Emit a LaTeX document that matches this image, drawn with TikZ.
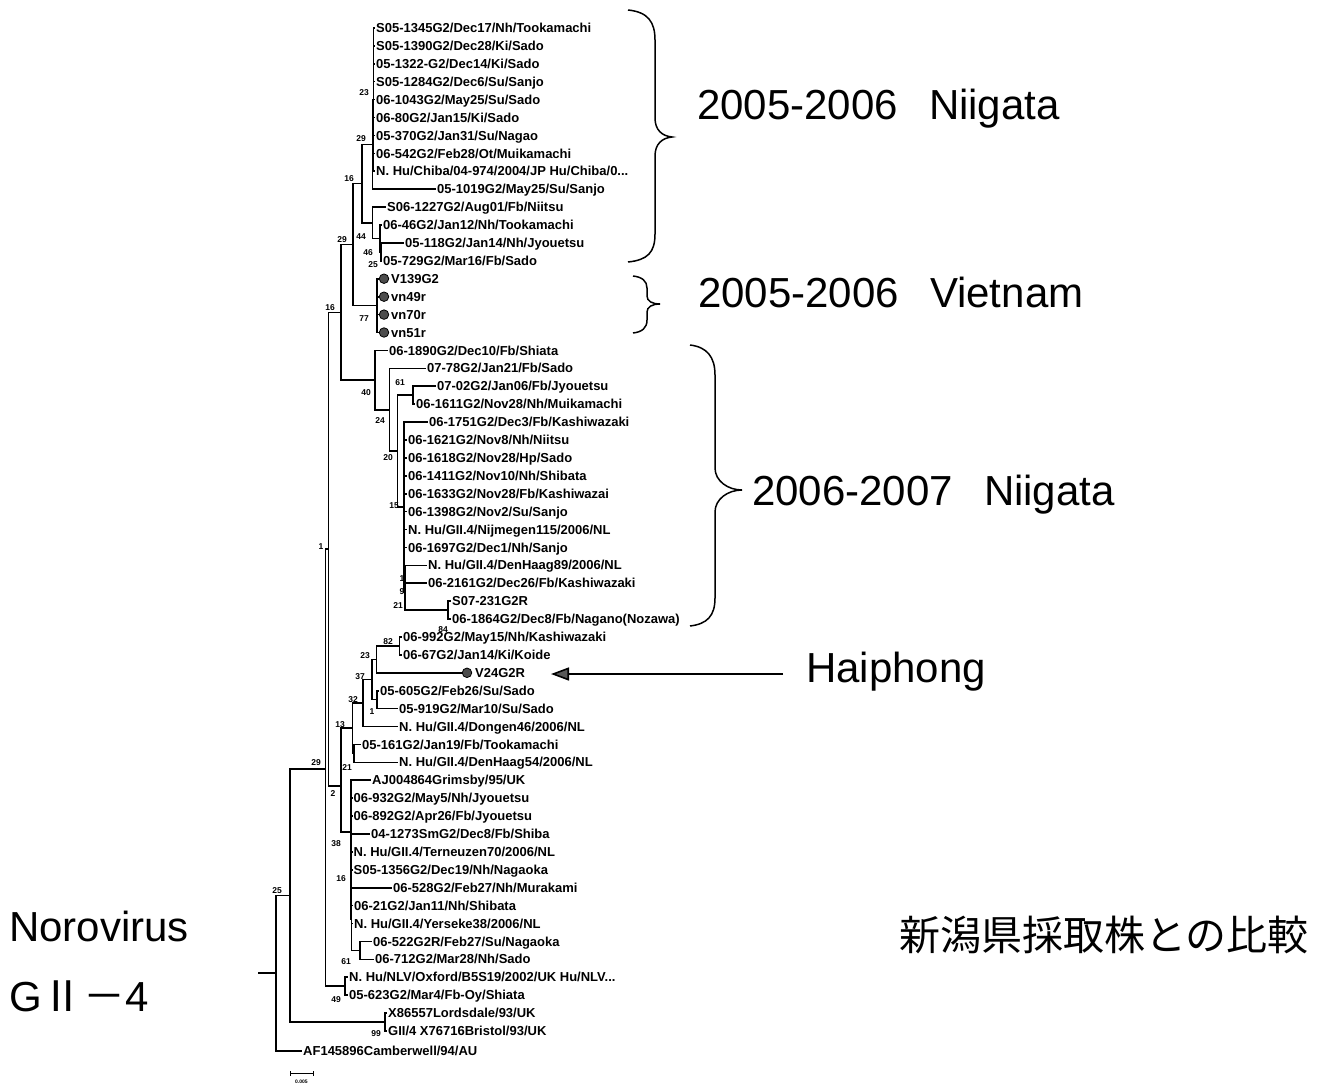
\documentclass[tikz,border=0pt]{standalone}
\usepackage{fontspec}
\setmainfont{Liberation Sans}
\newfontfamily\cjk{Noto Sans CJK JP}
\usetikzlibrary{arrows.meta}
\tikzset{
  br/.style={line width=1.6pt},
  leaf/.style={anchor=west, inner sep=1pt, text height=9.3pt, text depth=0pt, font=\bfseries\fontsize{13}{13}\selectfont},
  bs/.style={inner sep=0pt, text height=6pt, text depth=0pt, font=\bfseries\fontsize{8.5}{8.5}\selectfont},
  big/.style={anchor=west, inner sep=0pt, text height=30pt, text depth=0pt, font=\fontsize{42}{42}\selectfont},
  vdot/.style={circle, fill=black!70, draw=black, line width=0.8pt, minimum size=9.5pt, inner sep=0pt},
  bracepath/.style={line width=1.5pt},
}
\begin{document}
\begin{tikzpicture}[x=1pt,y=-1pt]
\fill[white] (0,0) rectangle (1324,1091);
\useasboundingbox (0,0) rectangle (1324,1091);

% ---------- leaves ----------
\node[leaf] (L1) at (375,28.0) {S05-1345G2/Dec17/Nh/Tookamachi};
\node[leaf] (L2) at (375,45.9) {S05-1390G2/Dec28/Ki/Sado};
\node[leaf] (L3) at (375,63.8) {05-1322-G2/Dec14/Ki/Sado};
\node[leaf] (L4) at (375,81.7) {S05-1284G2/Dec6/Su/Sanjo};
\node[leaf] (L5) at (375,99.6) {06-1043G2/May25/Su/Sado};
\node[leaf] (L6) at (375,117.6) {06-80G2/Jan15/Ki/Sado};
\node[leaf] (L7) at (375,135.5) {05-370G2/Jan31/Su/Nagao};
\node[leaf] (L8) at (375,153.4) {06-542G2/Feb28/Ot/Muikamachi};
\node[leaf] (L9) at (375,171.3) {N. Hu/Chiba/04-974/2004/JP Hu/Chiba/0...};
\node[leaf] (L10) at (436,189.2) {05-1019G2/May25/Su/Sanjo};
\node[leaf] (L11) at (386,207.1) {S06-1227G2/Aug01/Fb/Niitsu};
\node[leaf] (L12) at (382,225.0) {06-46G2/Jan12/Nh/Tookamachi};
\node[leaf] (L13) at (404,242.9) {05-118G2/Jan14/Nh/Jyouetsu};
\node[leaf] (L14) at (382,260.8) {05-729G2/Mar16/Fb/Sado};
\node[vdot] (C15) at (384,278.7) {};
\node[vdot] (C16) at (384,296.7) {};
\node[vdot] (C17) at (384,314.6) {};
\node[vdot] (C18) at (384,332.5) {};
\node[leaf] (T15) at (390,278.7) {V139G2};
\node[leaf] (T16) at (390,296.7) {vn49r};
\node[leaf] (T17) at (390,314.6) {vn70r};
\node[leaf] (T18) at (390,332.5) {vn51r};
\node[leaf] (L19) at (388,350.4) {06-1890G2/Dec10/Fb/Shiata};
\node[leaf] (L20) at (426,368.3) {07-78G2/Jan21/Fb/Sado};
\node[leaf] (L21) at (436,386.2) {07-02G2/Jan06/Fb/Jyouetsu};
\node[leaf] (L22) at (415,404.1) {06-1611G2/Nov28/Nh/Muikamachi};
\node[leaf] (L23) at (428,422.0) {06-1751G2/Dec3/Fb/Kashiwazaki};
\node[leaf] (L24) at (407,439.9) {06-1621G2/Nov8/Nh/Niitsu};
\node[leaf] (L25) at (407,457.8) {06-1618G2/Nov28/Hp/Sado};
\node[leaf] (L26) at (407,475.8) {06-1411G2/Nov10/Nh/Shibata};
\node[leaf] (L27) at (407,493.7) {06-1633G2/Nov28/Fb/Kashiwazai};
\node[leaf] (L28) at (407,511.6) {06-1398G2/Nov2/Su/Sanjo};
\node[leaf] (L29) at (407,529.5) {N. Hu/GII.4/Nijmegen115/2006/NL};
\node[leaf] (L30) at (407,547.4) {06-1697G2/Dec1/Nh/Sanjo};
\node[leaf] (L31) at (427,565.3) {N. Hu/GII.4/DenHaag89/2006/NL};
\node[leaf] (L32) at (427,583.2) {06-2161G2/Dec26/Fb/Kashiwazaki};
\node[leaf] (L33) at (451,601.1) {S07-231G2R};
\node[leaf] (L34) at (451,619.0) {06-1864G2/Dec8/Fb/Nagano(Nozawa)};
\node[leaf] (L35) at (402,636.9) {06-992G2/May15/Nh/Kashiwazaki};
\node[leaf] (L36) at (402,654.8) {06-67G2/Jan14/Ki/Koide};
\node[vdot] (C37) at (467,672.8) {};
\node[leaf] (T37) at (474,672.8) {V24G2R};
\node[leaf] (L38) at (379,690.7) {05-605G2/Feb26/Su/Sado};
\node[leaf] (L39) at (398,708.6) {05-919G2/Mar10/Su/Sado};
\node[leaf] (L40) at (398,726.5) {N. Hu/GII.4/Dongen46/2006/NL};
\node[leaf] (L41) at (361,744.4) {05-161G2/Jan19/Fb/Tookamachi};
\node[leaf] (L42) at (398,762.3) {N. Hu/GII.4/DenHaag54/2006/NL};
\node[leaf] (L43) at (371,780.2) {AJ004864Grimsby/95/UK};
\node[leaf] (L44) at (352.5,798.1) {06-932G2/May5/Nh/Jyouetsu};
\node[leaf] (L45) at (352.5,816.0) {06-892G2/Apr26/Fb/Jyouetsu};
\node[leaf] (L46) at (370,833.9) {04-1273SmG2/Dec8/Fb/Shiba};
\node[leaf] (L47) at (352.5,851.8) {N. Hu/GII.4/Terneuzen70/2006/NL};
\node[leaf] (L48) at (352.5,869.8) {S05-1356G2/Dec19/Nh/Nagaoka};
\node[leaf] (L49) at (392,887.7) {06-528G2/Feb27/Nh/Murakami};
\node[leaf] (L50) at (353,905.6) {06-21G2/Jan11/Nh/Shibata};
\node[leaf] (L51) at (353,923.5) {N. Hu/GII.4/Yerseke38/2006/NL};
\node[leaf] (L52) at (372,941.4) {06-522G2R/Feb27/Su/Nagaoka};
\node[leaf] (L53) at (374,959.3) {06-712G2/Mar28/Nh/Sado};
\node[leaf] (L54) at (348,977.2) {N. Hu/NLV/Oxford/B5S19/2002/UK Hu/NLV...};
\node[leaf] (L55) at (348,995.1) {05-623G2/Mar4/Fb-Oy/Shiata};
\node[leaf] (L56) at (387,1013.0) {X86557Lordsdale/93/UK};
\node[leaf] (L57) at (387,1030.9) {GII/4 X76716Bristol/93/UK};
\node[leaf] (L58) at (302,1051) {AF145896Camberwell/94/AU};

% ---------- internal nodes ----------
\coordinate (R0) at (258,973.2);
\coordinate (R) at (276,973.2);
\coordinate (N25) at (290,895.3);
\coordinate (N99) at (385,1022);
\coordinate (N29) at (325.5,768.7);
\coordinate (N49) at (345,986.2);
\coordinate (N1) at (328.5,549.2);
\coordinate (N16low) at (341,312.3);
\coordinate (N29b) at (353,244.6);
\coordinate (N16up) at (362,183.6);
\coordinate (N29a) at (372.5,144.4);
\coordinate (N23) at (373.5,99.65);
\coordinate (N44) at (372.5,222.75);
\coordinate (N46) at (380,238.4);
\coordinate (N25a) at (381,251.85);
\coordinate (N77) at (377,305.6);
\coordinate (N40) at (375,380.0);
\coordinate (N24) at (389.5,409.7);
\coordinate (N20) at (397.5,451.0);
\coordinate (N61a) at (413,395.15);
\coordinate (N15) at (404,507.1);
\coordinate (N21) at (405,592.15);
\coordinate (N9) at (405.5,574.25);
\coordinate (N84) at (448,610.05);
\coordinate (N2) at (341,786);
\coordinate (N13) at (352.5,728.2);
\coordinate (N32) at (363,703.0);
\coordinate (N37) at (372,679.5);
\coordinate (N23b) at (376.5,659.3);
\coordinate (N82) at (399.5,645.85);
\coordinate (N1c) at (377,699.65);
\coordinate (N21b) at (354,753.35);
\coordinate (N38) at (351,832);
\coordinate (N16c) at (351.5,919);
\coordinate (N61b) at (360,950.35);

% ---------- branches ----------
\draw[br] (R0) -- (R);
\foreach \p/\c in {R/N25, R/L58, N25/N29, N25/N99, N99/L56, N99/L57,
  N29/N1, N29/N49, N49/L54, N49/L55, N1/N16low, N1/N2,
  N16low/N29b, N16low/N40, N29b/N16up, N29b/N77, N16up/N29a, N16up/N44,
  N29a/N23, N29a/L10, N23/L1, N23/L2, N23/L3, N23/L4, N23/L5, N23/L6, N23/L7, N23/L8, N23/L9,
  N44/L11, N44/N46, N46/L12, N46/N25a, N25a/L13, N25a/L14,
  N77/C15, N77/C16, N77/C17, N77/C18,
  N40/L19, N40/N24, N24/L20, N24/N20, N20/N61a, N20/N15, N61a/L21, N61a/L22,
  N15/L23, N15/L24, N15/L25, N15/L26, N15/L27, N15/L28, N15/L29, N15/L30, N15/N21,
  N21/N9, N21/N84, N9/L31, N9/L32, N84/L33, N84/L34,
  N2/N13, N2/N38, N13/N32, N13/N21b, N32/N37, N32/L40, N37/N23b, N37/N1c,
  N23b/N82, N23b/C37, N82/L35, N82/L36, N1c/L38, N1c/L39, N21b/L41, N21b/L42,
  N38/L43, N38/L44, N38/L45, N38/L46, N38/L47, N38/L48, N38/N16c,
  N16c/L49, N16c/L50, N16c/L51, N16c/N61b, N61b/L52, N61b/L53}
  {\draw[br] (\p) |- (\c);}

% ---------- bootstrap values ----------
\node[bs] (b1) at (364,93) {23};
\node[bs] (b2) at (361,139) {29};
\node[bs] (b3) at (349,179) {16};
\node[bs] (b4) at (361,237) {44};
\node[bs] (b5) at (368,252) {46};
\node[bs] (b6) at (373,265) {25};
\node[bs] (b7) at (342,240) {29};
\node[bs] (b8) at (364,318) {77};
\node[bs] (b9) at (330,307) {16};
\node[bs] (b10) at (366,392) {40};
\node[bs] (b11) at (380,420) {24};
\node[bs] (b12) at (400,382) {61};
\node[bs] (b13) at (388,457) {20};
\node[bs] (b14) at (394,505) {15};
\node[bs] (b15) at (402,578) {1};
\node[bs] (b16) at (402,591) {9};
\node[bs] (b17) at (398,605) {21};
\node[bs] (b18) at (443,629) {84};
\node[bs] (b19) at (321,546) {1};
\node[bs] (b20) at (388,641) {82};
\node[bs] (b21) at (365,655) {23};
\node[bs] (b22) at (360,676) {37};
\node[bs] (b23) at (353,699) {32};
\node[bs] (b24) at (372,711) {1};
\node[bs] (b25) at (340,724) {13};
\node[bs] (b26) at (347,767) {21};
\node[bs] (b27) at (316,762) {29};
\node[bs] (b28) at (333,793) {2};
\node[bs] (b29) at (336,843) {38};
\node[bs] (b30) at (341,878) {16};
\node[bs] (b31) at (346,961) {61};
\node[bs] (b32) at (336,999) {49};
\node[bs] (b33) at (376,1033) {99};
\node[bs] (b34) at (277,890) {25};

% ---------- scale bar ----------
\coordinate (s1) at (290,1073);
\coordinate (s2) at (313,1073);
\draw[line width=0.8pt] ([yshift=-2.5pt]s1) -- ([yshift=2.5pt]s1);
\draw[line width=0.8pt] ([yshift=-2.5pt]s2) -- ([yshift=2.5pt]s2);
\draw[line width=0.8pt] (s1) -- (s2);
\node[inner sep=0pt, font=\bfseries\fontsize{5}{5}\selectfont] (sl) at (301.5,1082) {0.005};

% ---------- braces ----------
\draw[bracepath] (628,10) .. controls (648,12) and (655,22) .. (655,40) -- (655,118)
  .. controls (655,130) and (662,136) .. (672,137) .. controls (662,138) and (655,144) .. (655,156)
  -- (655,234) .. controls (655,252) and (648,260) .. (628,262);
\draw[bracepath] (633,276) .. controls (642,277) and (647,281) .. (647,288) -- (647,296)
  .. controls (647,301) and (652,304) .. (660,304) .. controls (652,304) and (647,307) .. (647,312)
  -- (647,320) .. controls (647,328) and (642,332) .. (633,333);
\draw[bracepath] (690,345) .. controls (707,347) and (715,357) .. (715,375) -- (715,468)
  .. controls (715,481) and (728,490) .. (742,490) .. controls (728,490) and (715,499) .. (715,512)
  -- (715,598) .. controls (715,616) and (707,624) .. (690,626);

% ---------- annotations ----------
\node[big] (tN1) at (697,105) {2005-2006\hspace{31pt}Niigata};
\node[big] (tV) at (698,292) {2005-2006\hspace{31pt}Vietnam};
\node[big] (tN2) at (752,490) {2006-2007\hspace{31pt}Niigata};
\node[big] (tH) at (806,667) {Haiphong};
\node[big] (tNo) at (9,926) {Norovirus};
\node[big] (tG) at (9,996) {G{\cjk Ⅱ－}4};
\node[anchor=base west, inner sep=0pt, font=\cjk\fontsize{41}{41}\selectfont] (tJ) at (899,950) {新潟県採取株との比較};

\coordinate (aS) at (783,674);
\coordinate (aE) at (551,674);
\draw[line width=1.6pt, -{Triangle[length=18pt,width=13pt,fill=black!65]}] (aS) -- (aE);
\end{tikzpicture}
\end{document}
